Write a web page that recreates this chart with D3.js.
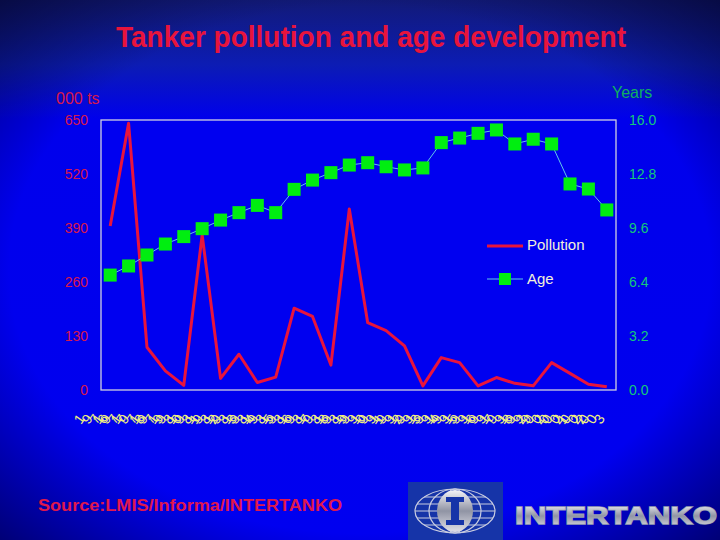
<!DOCTYPE html>
<html><head><meta charset="utf-8">
<script src="https://cdn.jsdelivr.net/npm/d3@7"></script>
<style>html,body{margin:0;padding:0;background:#0000e8;}svg{display:block;}</style>
</head><body>
<svg id="c" width="720" height="540"></svg>
<script>
const years = ["1976","1977","1978","1979","1980","1981","1982","1983","1984","1985","1986","1987","1988","1989","1990","1991","1992","1993","1994","1995","1996","1997","1998","1999","2000","2001","2002","2003"];
const pollution = [395,642,103,46,11,373,28,86,18,31,197,177,60,436,162,143,106,10,78,66,10,30,16,10,66,40,14,8];
const age = [6.81,7.35,8.0,8.65,9.09,9.56,10.07,10.51,10.94,10.51,11.89,12.44,12.88,13.33,13.47,13.23,13.04,13.16,14.66,14.93,15.21,15.41,14.58,14.86,14.58,12.21,11.91,10.67];
const leftTicks = [0,130,260,390,520,650];
const rightTicks = [0,3.2,6.4,9.6,12.8,16.0];
const seriesNames = ["Pollution","Age"];

const svg = d3.select("#c");
const defs = svg.append("defs");
const bg = defs.append("linearGradient").attr("id","bg").attr("x1",0).attr("y1",0).attr("x2",0).attr("y2",1);
bg.append("stop").attr("offset","0").attr("stop-color","#121a78");
bg.append("stop").attr("offset","0.12").attr("stop-color","#0c1cb4");
bg.append("stop").attr("offset","0.22").attr("stop-color","#0000ec");
bg.append("stop").attr("offset","1").attr("stop-color","#0000f0");
const vg = defs.append("radialGradient").attr("id","vg").attr("cx","0.5").attr("cy","0.5").attr("r","0.75");
vg.append("stop").attr("offset","0.65").attr("stop-color","#000020").attr("stop-opacity",0);
vg.append("stop").attr("offset","1").attr("stop-color","#000020").attr("stop-opacity",0.7);
const sil = defs.append("linearGradient").attr("id","sil").attr("x1",0).attr("y1",0).attr("x2",0).attr("y2",1);
sil.append("stop").attr("offset","0").attr("stop-color","#f4f4f8");
sil.append("stop").attr("offset","0.5").attr("stop-color","#9094a4");
sil.append("stop").attr("offset","1").attr("stop-color","#e0e0e8");

svg.append("rect").attr("width",720).attr("height",540).attr("fill","url(#bg)");
svg.append("rect").attr("width",720).attr("height",540).attr("fill","url(#vg)");

const L=101,R=616,T=120,B=390;
const x = d3.scaleBand().domain(years).range([L,R]);
const cx = d => x(d)+x.bandwidth()/2;
const yL = d3.scaleLinear().domain([0,650]).range([B,T]);
const yR = d3.scaleLinear().domain([0,16]).range([B,T]);

svg.append("rect").attr("x",L).attr("y",T).attr("width",R-L).attr("height",B-T)
  .attr("fill","#0000f0").attr("stroke","#d0d0e0").attr("stroke-width",1.3);

// title
svg.append("text").attr("x",116).attr("y",47).attr("textLength",510).attr("lengthAdjust","spacingAndGlyphs")
  .attr("font-family","Liberation Sans, Arial, sans-serif").attr("font-weight","bold").attr("font-size",29)
  .attr("fill","#e8143c").text("Tanker pollution and age development");

// axes
const ga = svg.append("g").attr("transform",`translate(${L},0)`)
  .call(d3.axisLeft(yL).tickValues(leftTicks).tickSize(0).tickPadding(13).tickFormat(d3.format("d")));
ga.select(".domain").remove();
ga.selectAll("text").attr("font-family","Liberation Sans, Arial, sans-serif").attr("font-size",14).attr("fill","#d8184c");
const gb = svg.append("g").attr("transform",`translate(${R},0)`)
  .call(d3.axisRight(yR).tickValues(rightTicks).tickSize(0).tickPadding(13).tickFormat(d3.format(".1f")));
gb.select(".domain").remove();
gb.selectAll("text").attr("font-family","Liberation Sans, Arial, sans-serif").attr("font-size",14).attr("fill","#14c878");

svg.append("text").attr("x",56).attr("y",104).attr("font-family","Liberation Sans, Arial, sans-serif").attr("font-size",16).attr("fill","#d8184c").text("000 ts");
svg.append("text").attr("x",612).attr("y",98).attr("font-family","Liberation Sans, Arial, sans-serif").attr("font-size",16).attr("fill","#10b060").text("Years");

// x labels (overlapping rotated glyphs, as in the reference)
const gx = svg.append("g").attr("transform",`translate(0,${B})`)
  .call(d3.axisBottom(x).tickSize(0).tickPadding(0));
gx.select(".domain").remove();
gx.selectAll("text").attr("font-family","Liberation Sans, Arial, sans-serif").attr("font-size",14)
  .attr("fill","#f0f080").attr("text-anchor","end").attr("y",35).attr("dy",0).attr("dx","2").attr("rotate","-55");

// pollution line
svg.append("path").datum(pollution).attr("fill","none").attr("stroke","#e8143c").attr("stroke-width",3)
  .attr("stroke-linejoin","round")
  .attr("d",d3.line().x((d,i)=>cx(years[i])).y(d=>yL(d)));
// age line
svg.append("path").datum(age).attr("fill","none").attr("stroke","#60c8e8").attr("stroke-width",1)
  .attr("d",d3.line().x((d,i)=>cx(years[i])).y(d=>yR(d)));
svg.append("g").selectAll("rect").data(age).join("rect")
  .attr("x",(d,i)=>cx(years[i])-6.5).attr("y",d=>yR(d)-6.5).attr("width",13).attr("height",13).attr("fill","#00ee10");

// legend
const lg = svg.append("g");
lg.append("line").attr("x1",487).attr("x2",523).attr("y1",246).attr("y2",246).attr("stroke","#e8143c").attr("stroke-width",3);
lg.append("text").attr("x",527).attr("y",250).attr("font-family","Liberation Sans, Arial, sans-serif").attr("font-size",15).attr("fill","#f4f0d8").text(seriesNames[0]);
lg.append("line").attr("x1",487).attr("x2",523).attr("y1",279).attr("y2",279).attr("stroke","#60c8e8").attr("stroke-width",1);
lg.append("rect").attr("x",499).attr("y",273).attr("width",12).attr("height",12).attr("fill","#00ee10");
lg.append("text").attr("x",527).attr("y",284).attr("font-family","Liberation Sans, Arial, sans-serif").attr("font-size",15).attr("fill","#f4f0d8").text(seriesNames[1]);

// source
svg.append("text").attr("x",38).attr("y",511).attr("textLength",304).attr("lengthAdjust","spacingAndGlyphs")
  .attr("font-family","Liberation Sans, Arial, sans-serif").attr("font-weight","bold").attr("font-size",16)
  .attr("fill","#e0184c").text("Source:LMIS/Informa/INTERTANKO");

// logo
const lo = svg.append("g");
lo.append("rect").attr("x",408).attr("y",482).attr("width",95).attr("height",58).attr("fill","#1634a8");
const gl = lo.append("g").attr("fill","none").attr("stroke","#c8cce0").attr("stroke-width",1.2);
gl.append("ellipse").attr("cx",455).attr("cy",511).attr("rx",40).attr("ry",22);
gl.append("ellipse").attr("cx",455).attr("cy",511).attr("rx",26).attr("ry",22);
gl.append("ellipse").attr("cx",455).attr("cy",511).attr("rx",12).attr("ry",22);
[-14,-7,0,7,14].forEach(o=>{const w=40*Math.sqrt(1-(o/22)*(o/22));gl.append("line").attr("x1",455-w).attr("x2",455+w).attr("y1",511+o).attr("y2",511+o);});
lo.append("ellipse").attr("cx",455).attr("cy",511).attr("rx",18).attr("ry",21).attr("fill","url(#sil)");
lo.append("path").attr("d","M446,497 h18 v5 h-5 v18 h5 v5 h-18 v-5 h5 v-18 h-5 z").attr("fill","#1634a8");
lo.append("text").attr("x",515).attr("y",524).attr("textLength",202).attr("lengthAdjust","spacingAndGlyphs")
  .attr("font-family","Liberation Sans, Arial, sans-serif").attr("font-weight","bold").attr("font-size",23)
  .attr("fill","url(#sil)").attr("stroke","#9aa0b0").attr("stroke-width",1.4).attr("paint-order","stroke").text("INTERTANKO");
</script>
</body></html>
